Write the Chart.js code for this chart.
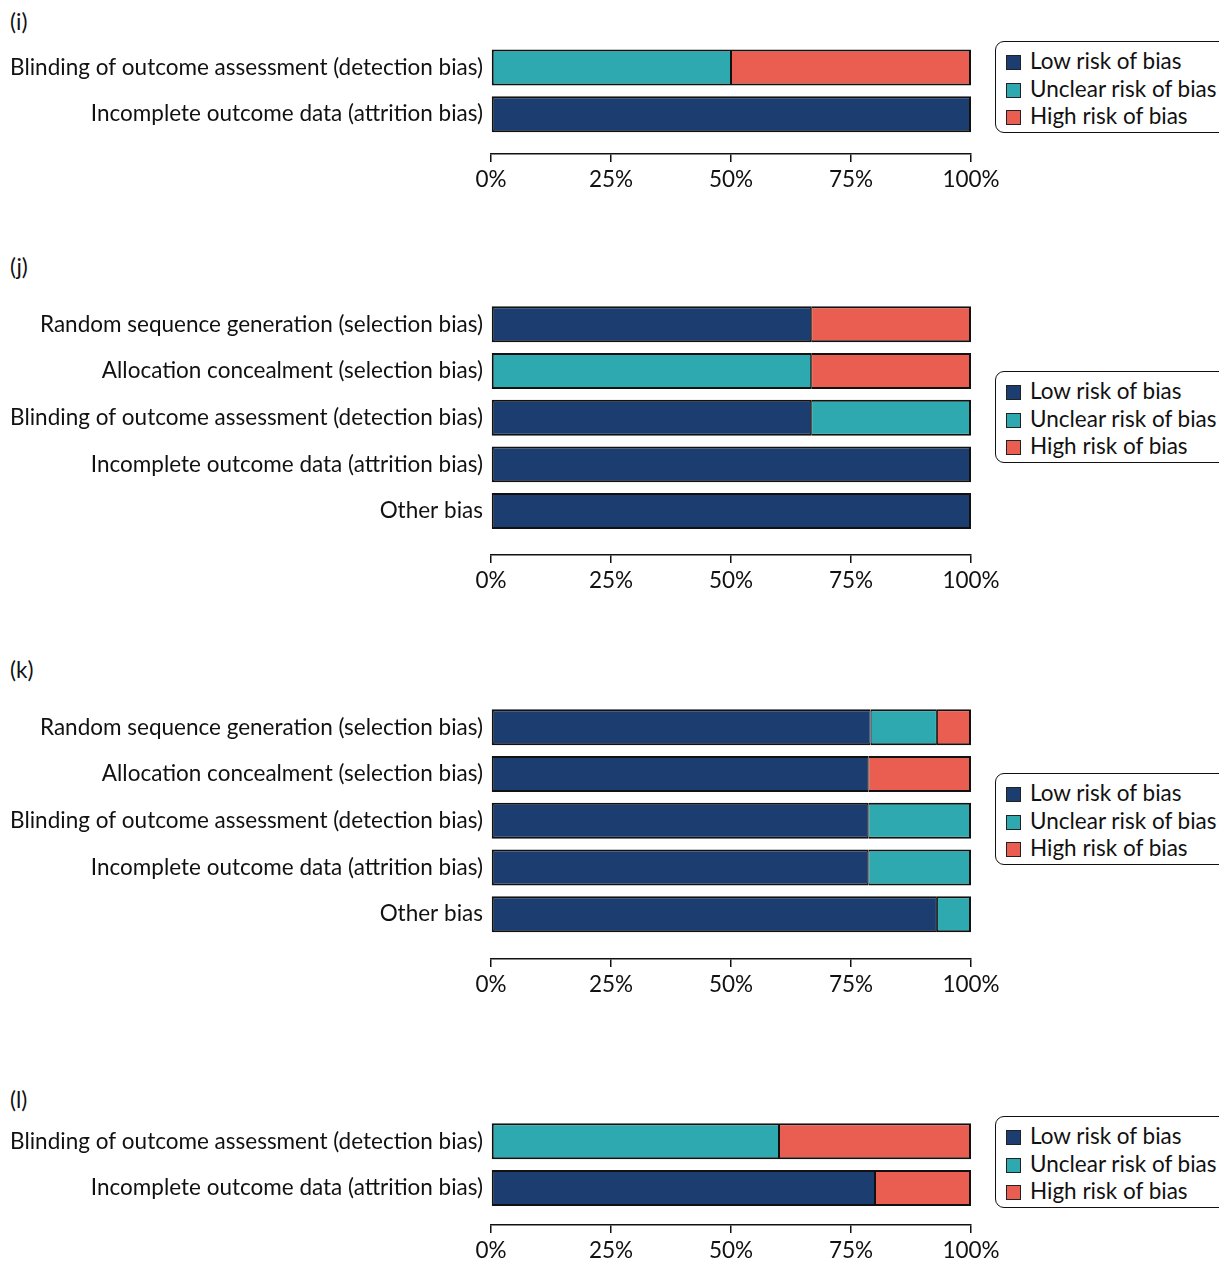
<!DOCTYPE html>
<html>
<head>
<meta charset="utf-8">
<script src="https://cdn.jsdelivr.net/npm/chart.js@4"></script>
<style>
  html, body { margin: 0; padding: 0; background: #fff; }
  body { width: 1219px; height: 1261px; position: relative; overflow: hidden; font-family: Lato, "Noto Sans", sans-serif; color: #111; }
  canvas { position: absolute; left: 0; }
  .tag { position: absolute; left: 10px; font-size: 22.5px; line-height: 26px; }
  .legend { position: absolute; left: 995px; width: 240px; height: 92px; box-sizing: border-box;
            border: 1.5px solid #111; border-radius: 9px; padding: 5px 0 0 10px; font-size: 22.5px; }
  .legend div { height: 27.5px; line-height: 27.5px; white-space: nowrap; }
  .legend span { display: inline-block; width: 13px; height: 13px; border: 1px solid #222; margin-right: 9px; vertical-align: -1px; }
</style>
</head>
<body>
<script>
const seriesNames = ['Low risk of bias', 'Unclear risk of bias', 'High risk of bias'];
const seriesColors = ['#1c3d6f', '#2fa9b0', '#e95e50'];
const tickLabels = ['0%', '25%', '50%', '75%', '100%'];

// panel (i)
const catsI = ['Blinding of outcome assessment (detection bias)', 'Incomplete outcome data (attrition bias)'];
const lowI = [0, 100];
const unclearI = [50, 0];
const highI = [50, 0];

// panel (j)
const catsJ = ['Random sequence generation (selection bias)', 'Allocation concealment (selection bias)',
  'Blinding of outcome assessment (detection bias)', 'Incomplete outcome data (attrition bias)', 'Other bias'];
const lowJ = [66.7, 0, 66.7, 100, 100];
const unclearJ = [0, 66.7, 33.3, 0, 0];
const highJ = [33.3, 33.3, 0, 0, 0];

// panel (k)
const catsK = catsJ;
const lowK = [79.1, 78.6, 78.6, 78.6, 92.9];
const unclearK = [13.8, 0, 21.4, 21.4, 7.1];
const highK = [7.1, 21.4, 0, 0, 0];

// panel (l)
const catsL = catsI;
const lowL = [0, 80];
const unclearL = [60, 0];
const highL = [40, 20];

const panels = [
  { tag: '(i)', tagY: 9, cats: catsI, vals: [lowI, unclearI, highI], top: 43.6, axis: 153.3, legendTop: 41 },
  { tag: '(j)', tagY: 254, cats: catsJ, vals: [lowJ, unclearJ, highJ], top: 301.2, axis: 555.3, legendTop: 371 },
  { tag: '(k)', tagY: 657, cats: catsK, vals: [lowK, unclearK, highK], top: 703.6, axis: 958.5, legendTop: 773 },
  { tag: '(l)', tagY: 1087, cats: catsL, vals: [lowL, unclearL, highL], top: 1118, axis: 1225, legendTop: 1116 }
];

const pitch = 46.7;
const xAxisH = 45;
Chart.defaults.font.family = 'Lato, "Noto Sans", sans-serif';
Chart.defaults.font.size = 22.5;
Chart.defaults.color = '#111';

panels.forEach((p) => {
  const tag = document.createElement('div');
  tag.className = 'tag';
  tag.style.top = p.tagY + 'px';
  tag.textContent = p.tag;
  document.body.appendChild(tag);

  const legend = document.createElement('div');
  legend.className = 'legend';
  legend.style.top = p.legendTop + 'px';
  seriesNames.forEach((name, i) => {
    const row = document.createElement('div');
    row.innerHTML = '<span style="background:' + seriesColors[i] + '"></span>' + name;
    legend.appendChild(row);
  });
  document.body.appendChild(legend);

  const plotH = p.axis - p.top;
  const canvas = document.createElement('canvas');
  canvas.width = 1100;
  canvas.height = Math.round(plotH + xAxisH);
  canvas.style.top = p.top + 'px';
  document.body.appendChild(canvas);

  // thinner divider between segments, full border on the outside
  const segBorder = (s) => (ctx) => {
    const i = ctx.raw.y;
    let start = 0;
    for (let k = 0; k < s; k++) start += p.vals[k][i];
    const end = start + ctx.raw.x;
    return { top: 2, bottom: 2, left: start < 0.5 ? 2 : 1, right: end > 99.5 ? 2 : 1 };
  };

  new Chart(canvas, {
    type: 'bar',
    data: {
      datasets: seriesNames.map((name, s) => ({
        label: name,
        data: p.vals[s].map((v, i) => ({ x: v, y: i })).filter((d) => d.x > 0),
        backgroundColor: seriesColors[s],
        borderColor: '#111',
        borderWidth: segBorder(s),
        borderSkipped: false,
        barPercentage: 0.77,
        categoryPercentage: 1,
      })),
    },
    options: {
      indexAxis: 'y',
      responsive: false,
      animation: false,
      layout: { padding: { left: 0, right: 129, top: 0, bottom: 0 } },
      plugins: { legend: { display: false }, tooltip: { enabled: false } },
      scales: {
        x: {
          type: 'linear',
          stacked: true,
          min: 0,
          max: 100,
          grid: { drawOnChartArea: false, color: '#111', lineWidth: 1.5, tickLength: 8 },
          border: { display: true, color: '#111', width: 1.5 },
          ticks: { stepSize: 25, padding: 4, callback: (v, i) => tickLabels[i] },
          afterFit: (scale) => { scale.height = xAxisH; },
        },
        y: {
          type: 'linear',
          stacked: true,
          reverse: true,
          offset: false,
          min: -0.5,
          max: plotH / pitch - 0.5,
          grid: { display: false, drawTicks: false },
          border: { display: false },
          ticks: { padding: 8, callback: (v) => p.cats[v] },
          afterBuildTicks: (scale) => { scale.ticks = p.cats.map((c, i) => ({ value: i })); },
          afterFit: (scale) => { scale.width = 491; scale.paddingTop = 0; scale.paddingBottom = 0; },
        },
      },
    },
  });
});
</script>
</body>
</html>
